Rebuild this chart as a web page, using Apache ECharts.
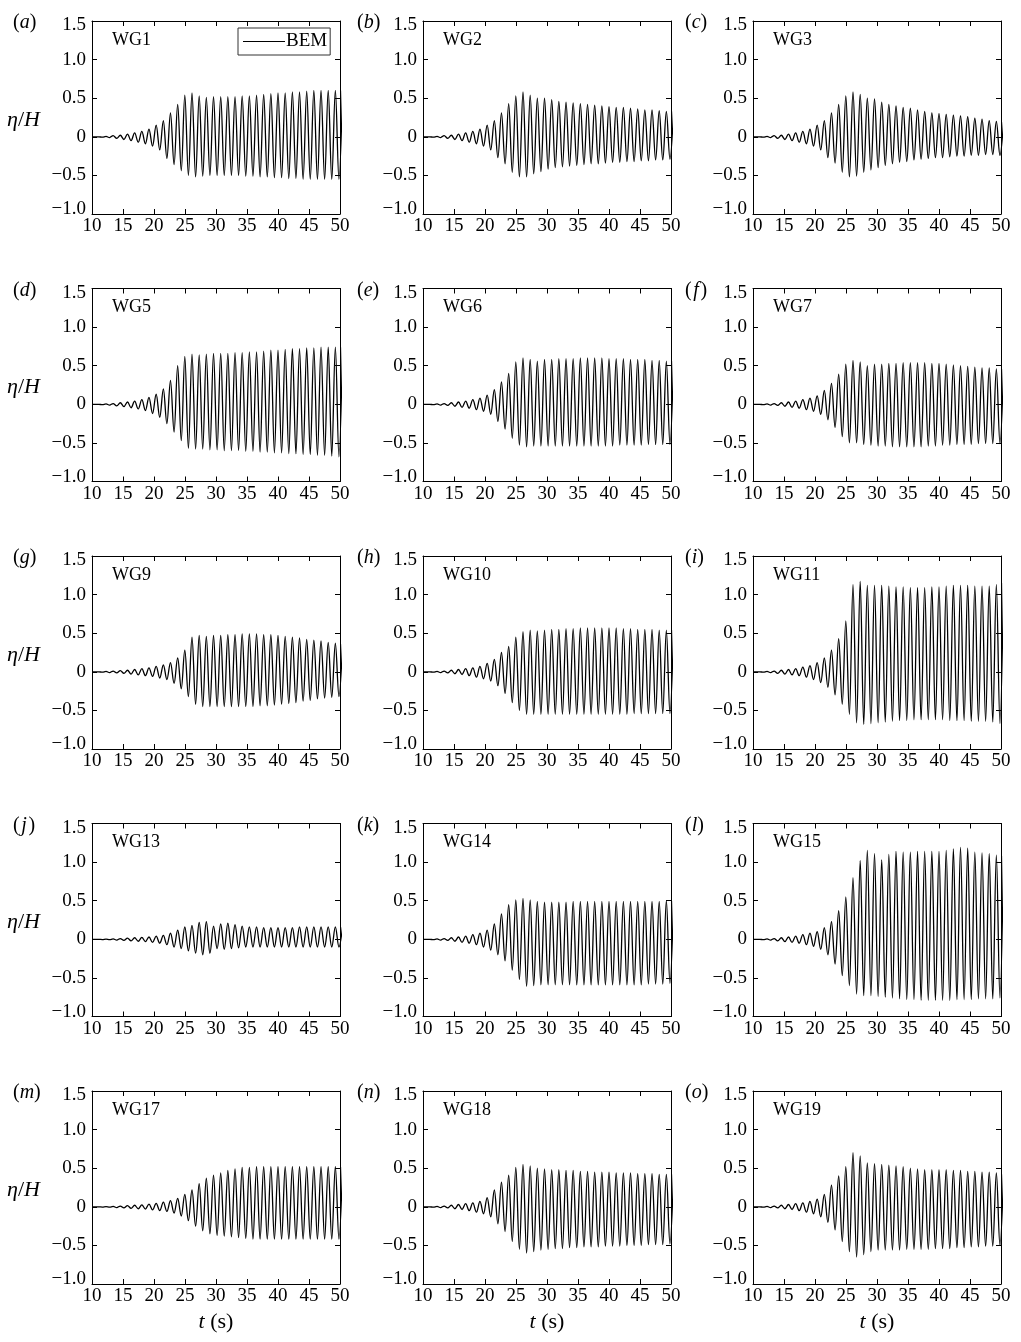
<!DOCTYPE html>
<html>
<head>
<meta charset="utf-8">
<title>Free-surface elevation at the wave gauges</title>
<script src="https://cdn.jsdelivr.net/npm/echarts@6.0.0/dist/echarts.min.js"></script>
<style>
  html, body { margin: 0; padding: 0; background: #fff; }
  #chart { width: 1021px; height: 1342px; }
</style>
</head>
<body>
<div id="chart"></div>
<script>
// Times (s) of the successive crests and troughs of the wave record
const crestTimes = [11.10, 12.26, 13.41, 14.57, 15.73, 16.88, 18.04, 19.19, 20.35, 21.51,
  22.66, 23.82, 24.97, 26.13, 27.29, 28.44, 29.60, 30.76, 31.91, 33.07,
  34.22, 35.38, 36.54, 37.69, 38.85, 40.00, 41.16, 42.32, 43.47, 44.63,
  45.78, 46.94, 48.10, 49.25, 50.41];
const troughTimes = [10.52, 11.68, 12.84, 13.99, 15.15, 16.30, 17.46, 18.62, 19.77, 20.93,
  22.08, 23.24, 24.40, 25.55, 26.71, 27.86, 29.02, 30.18, 31.33, 32.49,
  33.64, 34.80, 35.96, 37.11, 38.27, 39.42, 40.58, 41.74, 42.89, 44.05,
  45.20, 46.36, 47.52, 48.67, 49.83];

// Crest and trough elevations eta/H, one value per wave cycle (BEM)
const wg1Crest = [0, 0.005, 0.015, 0.02, 0.035, 0.05, 0.07, 0.10, 0.15, 0.21,
  0.31, 0.42, 0.54, 0.57, 0.53, 0.51, 0.52, 0.52, 0.52, 0.52,
  0.53, 0.53, 0.54, 0.55, 0.56, 0.57, 0.57, 0.58, 0.58, 0.59,
  0.60, 0.60, 0.60, 0.60, 0.60];
const wg1Trough = [0, -0.005, -0.01, -0.02, -0.035, -0.05, -0.07, -0.09, -0.12, -0.17,
  -0.28, -0.36, -0.44, -0.50, -0.52, -0.51, -0.50, -0.50, -0.50, -0.50,
  -0.50, -0.51, -0.51, -0.52, -0.52, -0.53, -0.53, -0.54, -0.54, -0.55,
  -0.55, -0.55, -0.55, -0.55, -0.55];

const wg2Crest = [0, 0.005, 0.015, 0.02, 0.035, 0.05, 0.07, 0.10, 0.15, 0.21,
  0.31, 0.43, 0.53, 0.58, 0.54, 0.50, 0.50, 0.48, 0.46, 0.45,
  0.44, 0.43, 0.42, 0.41, 0.40, 0.39, 0.38, 0.38, 0.37, 0.36,
  0.35, 0.35, 0.34, 0.33, 0.33];
const wg2Trough = [0, -0.005, -0.01, -0.02, -0.035, -0.05, -0.07, -0.09, -0.12, -0.17,
  -0.27, -0.35, -0.46, -0.52, -0.52, -0.48, -0.45, -0.42, -0.40, -0.39,
  -0.38, -0.37, -0.36, -0.35, -0.35, -0.34, -0.33, -0.33, -0.32, -0.32,
  -0.31, -0.31, -0.30, -0.30, -0.29];

const wg3Crest = [0, 0.005, 0.015, 0.02, 0.035, 0.05, 0.07, 0.10, 0.15, 0.21,
  0.31, 0.42, 0.53, 0.58, 0.55, 0.50, 0.49, 0.45, 0.42, 0.40,
  0.38, 0.37, 0.35, 0.33, 0.31, 0.30, 0.29, 0.28, 0.27, 0.26,
  0.24, 0.23, 0.21, 0.20, 0.19];
const wg3Trough = [0, -0.005, -0.01, -0.02, -0.035, -0.05, -0.07, -0.09, -0.12, -0.17,
  -0.27, -0.34, -0.46, -0.52, -0.51, -0.46, -0.43, -0.40, -0.37, -0.35,
  -0.33, -0.32, -0.30, -0.29, -0.28, -0.27, -0.27, -0.26, -0.25, -0.25,
  -0.24, -0.24, -0.23, -0.23, -0.24];

const wg5Crest = [0, 0.005, 0.01, 0.02, 0.03, 0.04, 0.06, 0.09, 0.13, 0.20,
  0.31, 0.50, 0.62, 0.65, 0.64, 0.65, 0.66, 0.66, 0.66, 0.67,
  0.67, 0.68, 0.68, 0.69, 0.70, 0.70, 0.71, 0.72, 0.72, 0.73,
  0.73, 0.74, 0.74, 0.74, 0.74];
const wg5Trough = [0, -0.005, -0.01, -0.02, -0.03, -0.045, -0.06, -0.08, -0.12, -0.17,
  -0.25, -0.36, -0.47, -0.57, -0.58, -0.58, -0.59, -0.59, -0.60, -0.60,
  -0.60, -0.61, -0.61, -0.62, -0.62, -0.63, -0.63, -0.64, -0.64, -0.65,
  -0.65, -0.66, -0.66, -0.67, -0.68];

const wg6Crest = [0, 0.005, 0.01, 0.02, 0.03, 0.04, 0.06, 0.08, 0.12, 0.19,
  0.29, 0.40, 0.55, 0.60, 0.58, 0.56, 0.58, 0.58, 0.59, 0.59,
  0.59, 0.60, 0.60, 0.60, 0.60, 0.59, 0.59, 0.59, 0.58, 0.58,
  0.58, 0.57, 0.57, 0.56, 0.56];
const wg6Trough = [0, -0.005, -0.01, -0.015, -0.025, -0.04, -0.05, -0.07, -0.09, -0.13,
  -0.22, -0.32, -0.44, -0.53, -0.55, -0.54, -0.54, -0.54, -0.54, -0.54,
  -0.54, -0.54, -0.54, -0.54, -0.54, -0.54, -0.54, -0.53, -0.53, -0.53,
  -0.53, -0.52, -0.52, -0.52, -0.52];

const wg7Crest = [0, 0.005, 0.01, 0.02, 0.03, 0.04, 0.06, 0.08, 0.11, 0.18,
  0.27, 0.39, 0.52, 0.57, 0.55, 0.50, 0.52, 0.52, 0.53, 0.53,
  0.54, 0.54, 0.54, 0.54, 0.53, 0.53, 0.52, 0.51, 0.50, 0.49,
  0.48, 0.47, 0.47, 0.46, 0.46];
const wg7Trough = [0, -0.005, -0.01, -0.015, -0.025, -0.04, -0.05, -0.07, -0.09, -0.13,
  -0.20, -0.30, -0.42, -0.50, -0.50, -0.52, -0.53, -0.54, -0.54, -0.55,
  -0.55, -0.55, -0.55, -0.55, -0.54, -0.54, -0.53, -0.53, -0.52, -0.52,
  -0.52, -0.51, -0.51, -0.51, -0.51];

const wg9Crest = [0, 0.005, 0.01, 0.015, 0.02, 0.03, 0.04, 0.05, 0.07, 0.09,
  0.12, 0.18, 0.28, 0.45, 0.47, 0.46, 0.47, 0.47, 0.48, 0.48,
  0.49, 0.49, 0.49, 0.48, 0.48, 0.47, 0.46, 0.45, 0.44, 0.42,
  0.41, 0.40, 0.38, 0.37, 0.36];
const wg9Trough = [0, -0.005, -0.01, -0.015, -0.02, -0.03, -0.04, -0.05, -0.06, -0.08,
  -0.10, -0.15, -0.22, -0.32, -0.42, -0.45, -0.45, -0.45, -0.45, -0.45,
  -0.45, -0.45, -0.45, -0.44, -0.44, -0.43, -0.42, -0.41, -0.40, -0.38,
  -0.37, -0.35, -0.34, -0.33, -0.32];

const wg10Crest = [0, 0.005, 0.01, 0.02, 0.03, 0.04, 0.05, 0.07, 0.11, 0.16,
  0.25, 0.33, 0.45, 0.52, 0.54, 0.53, 0.54, 0.55, 0.55, 0.56,
  0.56, 0.57, 0.57, 0.57, 0.57, 0.57, 0.57, 0.56, 0.56, 0.55,
  0.55, 0.55, 0.54, 0.54, 0.54];
const wg10Trough = [0, -0.005, -0.01, -0.015, -0.025, -0.035, -0.05, -0.07, -0.09, -0.12,
  -0.18, -0.28, -0.40, -0.50, -0.55, -0.55, -0.55, -0.55, -0.55, -0.55,
  -0.55, -0.55, -0.55, -0.55, -0.55, -0.55, -0.55, -0.55, -0.55, -0.54,
  -0.54, -0.54, -0.54, -0.54, -0.54];

const wg11Crest = [0, 0.005, 0.01, 0.02, 0.03, 0.04, 0.06, 0.08, 0.12, 0.18,
  0.28, 0.43, 0.66, 1.13, 1.17, 1.12, 1.12, 1.12, 1.11, 1.10,
  1.10, 1.09, 1.09, 1.09, 1.10, 1.10, 1.11, 1.12, 1.12, 1.12,
  1.11, 1.11, 1.11, 1.13, 1.15];
const wg11Trough = [0, -0.005, -0.01, -0.02, -0.03, -0.04, -0.05, -0.07, -0.10, -0.14,
  -0.20, -0.30, -0.42, -0.55, -0.66, -0.68, -0.67, -0.66, -0.65, -0.64,
  -0.63, -0.63, -0.62, -0.62, -0.62, -0.62, -0.62, -0.63, -0.63, -0.63,
  -0.64, -0.64, -0.64, -0.65, -0.67];

const wg13Crest = [0, 0.003, 0.005, 0.01, 0.015, 0.02, 0.025, 0.03, 0.04, 0.05,
  0.08, 0.12, 0.16, 0.18, 0.22, 0.23, 0.17, 0.20, 0.21, 0.19,
  0.17, 0.16, 0.16, 0.15, 0.15, 0.15, 0.15, 0.15, 0.16, 0.16,
  0.16, 0.16, 0.16, 0.16, 0.16];
const wg13Trough = [0, -0.003, -0.005, -0.01, -0.015, -0.02, -0.025, -0.03, -0.04, -0.05,
  -0.07, -0.10, -0.12, -0.15, -0.18, -0.20, -0.18, -0.12, -0.13, -0.12,
  -0.11, -0.10, -0.10, -0.10, -0.10, -0.10, -0.10, -0.10, -0.10, -0.10,
  -0.10, -0.10, -0.10, -0.10, -0.10];

const wg14Crest = [0, 0.005, 0.01, 0.02, 0.03, 0.04, 0.06, 0.08, 0.12, 0.20,
  0.33, 0.45, 0.51, 0.53, 0.51, 0.49, 0.48, 0.48, 0.48, 0.48,
  0.49, 0.49, 0.49, 0.49, 0.49, 0.49, 0.49, 0.49, 0.49, 0.49,
  0.49, 0.49, 0.49, 0.50, 0.50];
const wg14Trough = [0, -0.005, -0.01, -0.015, -0.025, -0.04, -0.05, -0.07, -0.10, -0.14,
  -0.20, -0.28, -0.40, -0.52, -0.61, -0.60, -0.59, -0.59, -0.59, -0.59,
  -0.59, -0.59, -0.59, -0.59, -0.59, -0.59, -0.59, -0.59, -0.59, -0.59,
  -0.59, -0.58, -0.58, -0.58, -0.57];

const wg15Crest = [0, 0.005, 0.01, 0.02, 0.03, 0.04, 0.06, 0.08, 0.10, 0.15,
  0.23, 0.37, 0.55, 0.80, 1.02, 1.15, 1.11, 1.03, 1.10, 1.14,
  1.13, 1.13, 1.14, 1.14, 1.14, 1.14, 1.15, 1.17, 1.19, 1.18,
  1.13, 1.12, 1.11, 1.09, 1.08];
const wg15Trough = [0, -0.005, -0.01, -0.02, -0.03, -0.04, -0.05, -0.07, -0.09, -0.13,
  -0.20, -0.32, -0.47, -0.60, -0.71, -0.73, -0.73, -0.74, -0.75, -0.76,
  -0.77, -0.78, -0.78, -0.79, -0.79, -0.79, -0.79, -0.79, -0.78, -0.78,
  -0.78, -0.77, -0.77, -0.77, -0.76];

const wg17Crest = [0, 0.003, 0.005, 0.01, 0.015, 0.02, 0.025, 0.035, 0.045, 0.06,
  0.08, 0.11, 0.16, 0.22, 0.30, 0.37, 0.41, 0.44, 0.47, 0.49,
  0.51, 0.51, 0.52, 0.52, 0.52, 0.52, 0.52, 0.52, 0.52, 0.52,
  0.52, 0.52, 0.52, 0.52, 0.52];
const wg17Trough = [0, -0.003, -0.005, -0.01, -0.015, -0.02, -0.025, -0.03, -0.04, -0.05,
  -0.06, -0.08, -0.12, -0.18, -0.25, -0.31, -0.35, -0.37, -0.38, -0.39,
  -0.40, -0.41, -0.42, -0.42, -0.42, -0.42, -0.42, -0.42, -0.42, -0.42,
  -0.42, -0.42, -0.42, -0.42, -0.42];

const wg18Crest = [0, 0.005, 0.01, 0.02, 0.03, 0.04, 0.05, 0.07, 0.12, 0.22,
  0.32, 0.41, 0.51, 0.55, 0.53, 0.50, 0.49, 0.48, 0.48, 0.47,
  0.47, 0.46, 0.46, 0.45, 0.45, 0.45, 0.44, 0.44, 0.44, 0.43,
  0.43, 0.43, 0.42, 0.42, 0.42];
const wg18Trough = [0, -0.005, -0.01, -0.015, -0.025, -0.035, -0.05, -0.07, -0.09, -0.13,
  -0.22, -0.32, -0.45, -0.55, -0.60, -0.58, -0.56, -0.55, -0.54, -0.54,
  -0.53, -0.53, -0.52, -0.52, -0.52, -0.51, -0.51, -0.51, -0.50, -0.50,
  -0.50, -0.49, -0.49, -0.49, -0.48];

const wg19Crest = [0, 0.005, 0.01, 0.02, 0.03, 0.04, 0.05, 0.07, 0.10, 0.16,
  0.28, 0.40, 0.52, 0.70, 0.66, 0.57, 0.56, 0.55, 0.54, 0.53,
  0.52, 0.50, 0.49, 0.48, 0.48, 0.48, 0.48, 0.47, 0.47, 0.46,
  0.46, 0.45, 0.45, 0.44, 0.42];
const wg19Trough = [0, -0.005, -0.01, -0.015, -0.025, -0.035, -0.05, -0.07, -0.09, -0.13,
  -0.20, -0.30, -0.45, -0.58, -0.65, -0.62, -0.58, -0.56, -0.56, -0.56,
  -0.56, -0.55, -0.55, -0.55, -0.55, -0.54, -0.54, -0.54, -0.53, -0.53,
  -0.52, -0.52, -0.51, -0.51, -0.50];

// Panel captions and gauge names
const panelLetters = ['a', 'b', 'c', 'd', 'e', 'f', 'g', 'h', 'i', 'j', 'k', 'l', 'm', 'n', 'o'];
const gaugeNames = ['WG1', 'WG2', 'WG3', 'WG5', 'WG6', 'WG7', 'WG9', 'WG10', 'WG11',
  'WG13', 'WG14', 'WG15', 'WG17', 'WG18', 'WG19'];
const gaugeCrests = [wg1Crest, wg2Crest, wg3Crest, wg5Crest, wg6Crest, wg7Crest, wg9Crest, wg10Crest,
  wg11Crest, wg13Crest, wg14Crest, wg15Crest, wg17Crest, wg18Crest, wg19Crest];
const gaugeTroughs = [wg1Trough, wg2Trough, wg3Trough, wg5Trough, wg6Trough, wg7Trough, wg9Trough, wg10Trough,
  wg11Trough, wg13Trough, wg14Trough, wg15Trough, wg17Trough, wg18Trough, wg19Trough];

// Axis ranges
const tMin = 10, tMax = 50, tStep = 5;
const etaMin = -1, etaMax = 1.5, etaStep = 0.5;
const seriesName = 'BEM';

// ---- layout ----
const FONT = '"Liberation Serif", "Times New Roman", Times, serif';
const colLeft = [92, 423, 753];
const letterX = [13, 357, 685];
const plotW = 248, plotH = 193;
const rowTop0 = 21, rowStep = 267.5;
const INK = '#000';

function gridBox(i) {
  return { left: colLeft[i % 3], top: rowTop0 + Math.floor(i / 3) * rowStep };
}

// Alternating trough / crest sequence of one gauge record
function waveRecord(crests, troughs) {
  const pts = [[tMin, 0]];
  for (let k = 0; k < crestTimes.length; k++) {
    pts.push([troughTimes[k], troughs[k]]);
    pts.push([crestTimes[k], crests[k]]);
  }
  return pts;
}

function etaLabel(v) {
  const r = Math.round(v * 10) / 10;
  const s = r === 0 ? '0' : (r < 0 ? '\u2212' : '') + Math.abs(r).toFixed(1);
  if (r === etaMax) return '{hi|' + s + '}';
  if (r === etaMin) return '{lo|' + s + '}';
  return s;
}

const labelFont = { fontFamily: FONT, fontSize: 19, color: INK };
const frameLine = { show: true, onZero: false, lineStyle: { color: INK, width: 1 } };
const innerTick = { show: true, inside: true, length: 5, lineStyle: { color: INK, width: 1 } };

const grids = [], xAxes = [], yAxes = [], series = [], graphics = [];

gaugeNames.forEach((name, i) => {
  const g = gridBox(i);
  grids.push({ left: g.left, top: g.top, width: plotW, height: plotH, containLabel: false });

  // bottom (labelled) and top (ticks only) time axes
  xAxes.push({
    type: 'value', gridIndex: i, position: 'bottom', min: tMin, max: tMax, interval: tStep,
    axisLine: frameLine, axisTick: innerTick, splitLine: { show: false },
    axisLabel: Object.assign({ margin: 3, showMinLabel: true, showMaxLabel: true }, labelFont)
  });
  xAxes.push({
    type: 'value', gridIndex: i, position: 'top', min: tMin, max: tMax, interval: tStep,
    axisLine: frameLine, axisTick: innerTick, splitLine: { show: false }, axisLabel: { show: false }
  });

  // left (labelled) and right (ticks only) elevation axes
  yAxes.push({
    type: 'value', gridIndex: i, position: 'left', min: etaMin, max: etaMax, interval: etaStep,
    axisLine: frameLine, axisTick: innerTick, splitLine: { show: false },
    axisLabel: Object.assign({
      margin: 6, formatter: etaLabel,
      rich: {
        hi: Object.assign({ padding: [9, 0, 0, 0] }, labelFont),
        lo: Object.assign({ padding: [0, 0, 9, 0] }, labelFont)
      }
    }, labelFont)
  });
  yAxes.push({
    type: 'value', gridIndex: i, position: 'right', min: etaMin, max: etaMax, interval: etaStep,
    axisLine: frameLine, axisTick: innerTick, splitLine: { show: false }, axisLabel: { show: false }
  });

  series.push({
    type: 'line', name: seriesName, xAxisIndex: 2 * i, yAxisIndex: 2 * i,
    data: waveRecord(gaugeCrests[i], gaugeTroughs[i]),
    symbol: 'none', showSymbol: false, smooth: 0.36, smoothMonotone: 'x',
    lineStyle: { color: INK, width: 1.3 }, itemStyle: { color: INK },
    clip: true, silent: true, animation: false
  });

  // panel letter, e.g. (a)
  const letter = panelLetters[i];
  const pad = (letter === 'f' || letter === 'j') ? '\u200a' : '';
  graphics.push({
    type: 'text', x: letterX[i % 3], y: g.top + 2,
    style: {
      text: '(' + pad + '{it|' + letter + '}' + pad + ')',
      fontFamily: FONT, fontSize: 20, fill: INK, verticalAlign: 'middle', align: 'left',
      rich: { it: { fontFamily: FONT, fontSize: 20, fontStyle: 'italic', fill: INK } }
    }
  });

  // gauge name inside the plot
  graphics.push({
    type: 'text', x: g.left + 20, y: g.top + 19,
    style: { text: name, fontFamily: FONT, fontSize: 18, fill: INK, verticalAlign: 'middle', align: 'left' }
  });

  // vertical axis title on the first column
  if (i % 3 === 0) {
    graphics.push({
      type: 'text', x: 7, y: g.top + 99,
      style: {
        text: '{it|\u03b7}/{it|H}',
        fontFamily: FONT, fontSize: 22, fill: INK, verticalAlign: 'middle', align: 'left',
        rich: { it: { fontFamily: FONT, fontSize: 22, fontStyle: 'italic', fill: INK } }
      }
    });
  }

  // horizontal axis title under the bottom row
  if (i >= gaugeNames.length - 3) {
    graphics.push({
      type: 'text', x: g.left + plotW / 2, y: g.top + plotH + 38,
      style: {
        text: '{it|t} (s)',
        fontFamily: FONT, fontSize: 22, fill: INK, verticalAlign: 'middle', align: 'center',
        rich: { it: { fontFamily: FONT, fontSize: 22, fontStyle: 'italic', fill: INK } }
      }
    });
  }
});

const chart = echarts.init(document.getElementById('chart'), null, { renderer: 'canvas', width: 1021, height: 1342 });
chart.setOption({
  backgroundColor: '#fff',
  animation: false,
  grid: grids,
  xAxis: xAxes,
  yAxis: yAxes,
  series: series,
  legend: {
    data: [{ name: seriesName, icon: 'rect' }], left: 238, top: 28, orient: 'horizontal',
    selectedMode: false, itemWidth: 42, itemHeight: 1.2, itemGap: 4,
    itemStyle: { color: INK, borderWidth: 0 },
    padding: [4, 3, 4, 5], borderColor: '#333', borderWidth: 1, borderRadius: 0,
    backgroundColor: '#fff',
    textStyle: { fontFamily: FONT, fontSize: 19, color: INK, padding: [0, 0, 0, -4] }
  },
  graphic: graphics
});
</script>
</body>
</html>
